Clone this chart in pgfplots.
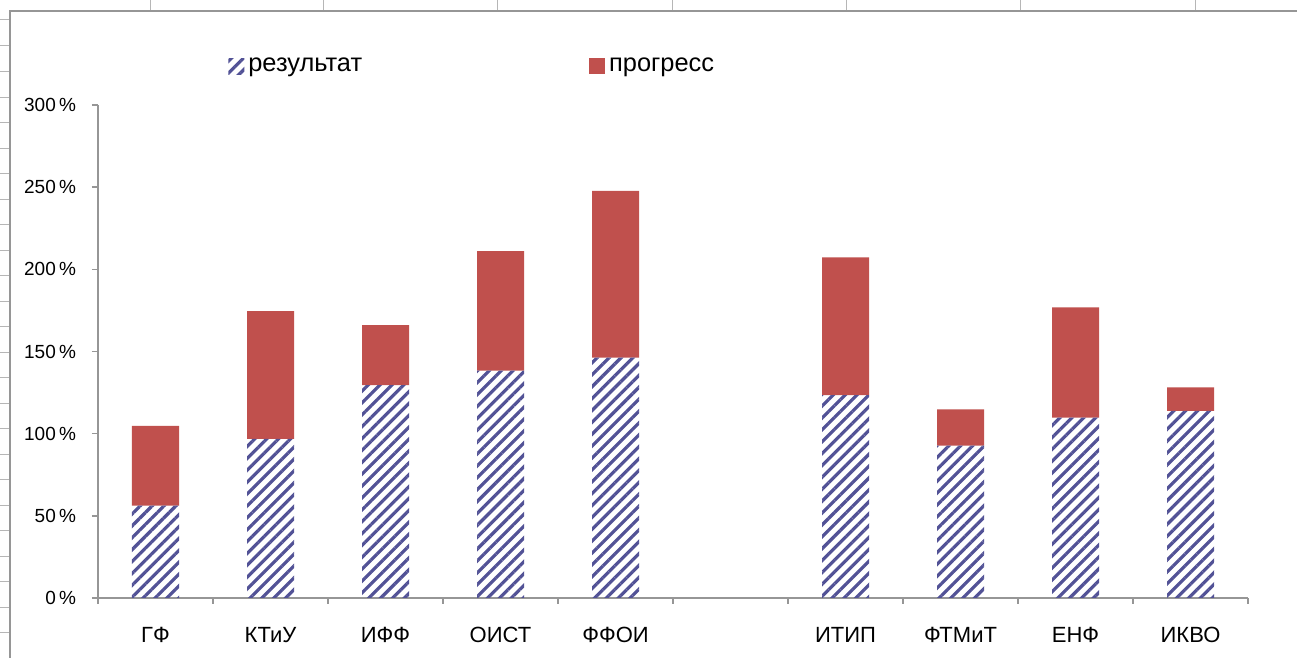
\documentclass[border=0pt]{standalone}
\usepackage{pgfplots}
\pgfplotsset{compat=1.18}
\usepackage{fontspec}
\setmainfont{Liberation Sans}
\usetikzlibrary{patterns.meta}
\definecolor{hatch}{RGB}{82,82,150}
\definecolor{prog}{RGB}{192,80,77}
\definecolor{gridgray}{RGB}{150,150,150}
\begin{document}
\begin{tikzpicture}[x=0.5pt,y=0.5pt]
% page: 1297 x 658 px, 1 px = 0.5pt, origin bottom-left
\useasboundingbox (0,0) rectangle (1297,658);
\fill[white] (0,0) rectangle (1297,658);
% spreadsheet frame behind the chart
\foreach \gx in {150,323,497,672,846,1020,1195}
  \draw[gridgray!70, line width=0.5pt] (\gx,658) -- (\gx,648);
\foreach \gy in {20,46,72,98,123,149,174,200,225,251,276,302,327,353,378,404,429,455,480,506,531,557,582,608,633}
  \draw[gridgray!70, line width=0.5pt] (0,658-\gy) -- (9,658-\gy);
\draw[gridgray, line width=1pt] (10,0) -- (10,647) -- (1297,647);

\begin{axis}[
    at={(49pt,30pt)}, anchor=south west,
    scale only axis,
    width=575pt, height=246.5pt,
    ybar stacked,
    bar width=23.5pt,
    xmin=-0.5, xmax=9.5,
    ymin=0, ymax=300,
    axis lines*=left,
    axis line style={gridgray, line width=0.8pt},
    tick style={gridgray, line width=0.8pt},
    tick align=outside,
    major tick length=3pt,
    xtick={-0.5,0.5,...,9.5},
    x tick label as interval,
    xticklabels={ГФ,КТиУ,ИФФ,ОИСТ,ФФОИ,,ИТИП,ФТМиТ,ЕНФ,ИКВО},
    x tick label style={font=\fontsize{11}{12}\selectfont, yshift=-8pt},
    ytick={0,50,...,300},
    yticklabels={0\,\%,50\,\%,100\,\%,150\,\%,200\,\%,250\,\%,300\,\%},
    y tick label style={font=\fontsize{9.5}{11}\selectfont, xshift=-4.5pt},
    legend columns=2,
    legend style={draw=none, fill=none, at={(0.113,1.079)}, anchor=west,
        inner sep=0pt, font=\fontsize{12.7}{14}\selectfont,
        /tikz/every even column/.append style={column sep=111.5pt}},
    legend cell align=left,
    legend image code/.code={\fill[#1] (0pt,-4pt) rectangle (8pt,4pt);},
]
\addplot[draw=none, pattern={Lines[angle=45,distance=4.2pt,line width=1.6pt]}, pattern color=hatch]
  coordinates {(0,56.2) (1,96.8) (2,129.6) (3,138.3) (4,146.2) (6,123.5) (7,92.7) (8,109.8) (9,113.8)};
\addplot[draw=none, fill=prog]
  coordinates {(0,48.6) (1,77.8) (2,36.5) (3,72.8) (4,101.5) (6,83.8) (7,22.1) (8,67.1) (9,14.4)};
\legend{результат, прогресс}
\end{axis}
\end{tikzpicture}
\end{document}
